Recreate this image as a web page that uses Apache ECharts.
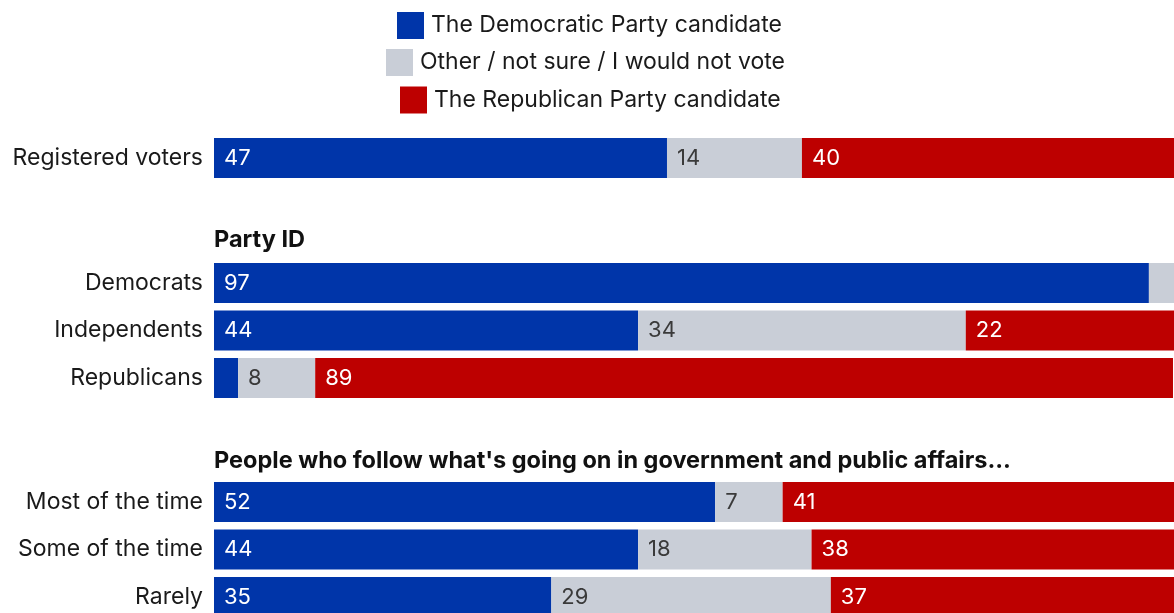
<!DOCTYPE html>
<html><head><meta charset="utf-8">
<script src="https://cdn.jsdelivr.net/npm/echarts@6/dist/echarts.min.js"></script>
<style>html,body{margin:0;padding:0;background:#fff}#c{width:1174px;height:613px}</style>
</head><body><div id="c"></div>
<script>
const seriesNames = ['The Democratic Party candidate', 'Other / not sure / I would not vote', 'The Republican Party candidate'];
const headers = ['Party ID', "People who follow what's going on in government and public affairs..."];

const cat1 = ['Registered voters'];
const dem1 = [47];
const oth1 = [14];
const rep1 = [40];

const cat2 = ['Democrats', 'Independents', 'Republicans'];
const dem2 = [97, 44, 2.5];
const oth2 = [3, 34, 8];
const rep2 = [0, 22, 89];

const cat3 = ['Most of the time', 'Some of the time', 'Rarely'];
const dem3 = [52, 44, 35];
const oth3 = [7, 18, 29];
const rep3 = [41, 38, 37];

const colors = ['#0035a9', '#c9ced7', '#bd0000'];
const labelColors = ['#ffffff', '#3a3a3a', '#ffffff'];
const FONT = 'Inter';
const band = 47.5;
const groups = [
  {cats: cat1, vals: [dem1, oth1, rep1], center0: 158},
  {cats: cat2, vals: [dem2, oth2, rep2], center0: 283},
  {cats: cat3, vals: [dem3, oth3, rep3], center0: 502}
];

const grid = [], xAxis = [], yAxis = [], series = [];
groups.forEach((g, gi) => {
  grid.push({left: 214, width: 1012, top: g.center0 - band / 2, height: band * g.cats.length,
    containLabel: false, outerBoundsMode: 'none'});
  xAxis.push({type: 'value', gridIndex: gi, min: 0, max: 105, show: false});
  yAxis.push({type: 'category', gridIndex: gi, data: g.cats, inverse: true,
    axisLine: {show: false}, axisTick: {show: false}, splitLine: {show: false},
    axisLabel: {color: '#1a1a1a', fontSize: 23, fontFamily: FONT, margin: 11}});
  g.vals.forEach((arr, si) => {
    series.push({
      type: 'bar', name: seriesNames[si], xAxisIndex: gi, yAxisIndex: gi, stack: 'g' + gi,
      data: arr, barWidth: 40, itemStyle: {color: colors[si]},
      label: {show: true, position: 'insideLeft', distance: 10, color: labelColors[si],
        fontSize: 22, fontFamily: FONT,
        formatter: p => (p.value >= 5 ? Math.round(p.value) : '')}
    });
  });
});

const legendCenters = [25.5, 62.5, 100];
const legendLefts = [397, 386, 400];
const legend = seriesNames.map((n, i) => ({
  data: [n], left: legendLefts[i], top: legendCenters[i] - 13.5, padding: 0,
  itemWidth: 27, itemHeight: 27, icon: 'rect',
  itemGap: 0, selectedMode: false,
  textStyle: {color: '#1a1a1a', fontSize: 23, fontFamily: FONT, padding: [0, 0, 0, 2]}
}));

const title = [
  {text: headers[0], left: 214, top: 228, padding: 0,
    textStyle: {fontSize: 23.5, fontWeight: 'bold', color: '#111', fontFamily: FONT}},
  {text: headers[1], left: 214, top: 449, padding: 0,
    textStyle: {fontSize: 23.5, fontWeight: 'bold', color: '#111', fontFamily: FONT}}
];

const chart = echarts.init(document.getElementById('c'));
chart.setOption({backgroundColor: '#fff', animation: false, title, legend, grid, xAxis, yAxis, series});
</script></body></html>
